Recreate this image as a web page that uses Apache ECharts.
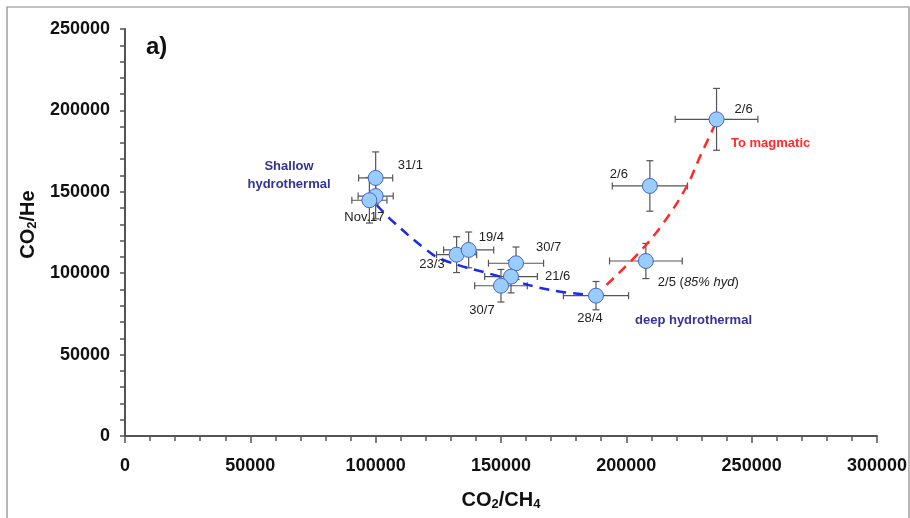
<!DOCTYPE html>
<html><head><meta charset="utf-8">
<script src="https://cdn.jsdelivr.net/npm/echarts@6/dist/echarts.min.js"></script>
<style>html,body{margin:0;padding:0;background:#fff;overflow:hidden;}#c{width:910px;height:518px;}</style>
</head><body><div id="c"></div>
<script>
// ---- data ----
var sampleLabels = ['31/1', 'Nov.17', 'Nov.17b', '23/3', '19/4', '30/7', '21/6', '30/7b', '28/4', '2/5', '2/6', '2/6b'];
var co2ch4 = [100000, 100000, 97500, 132300, 137100, 156000, 154000, 150000, 187900, 207800, 209400, 236000];
var co2he  = [158500, 147400, 144800, 111400, 114300, 106100, 97900, 92300, 86200, 107500, 153600, 194500];
var errCh4 = [6800, 7000, 7000, 8000, 10000, 11000, 10500, 10500, 13000, 14500, 15000, 16500];
var errHe  = [16000, 14000, 14000, 11000, 11000, 10000, 10000, 10000, 8700, 10800, 15500, 19000];
var shallowTrendX = [100400, 107000, 120300, 127000, 148300, 169500, 186200];
var shallowTrendY = [141900, 131600, 114300, 108100, 98500, 89700, 86600];
var magmaticTrendX = [192100, 205400, 214700, 224000, 229400, 235300];
var magmaticTrendY = [92800, 113200, 130600, 153100, 171600, 191000];
var xTicks = [0, 50000, 100000, 150000, 200000, 250000, 300000];
var yTicks = [0, 50000, 100000, 150000, 200000, 250000];

// ---- label placement (style) ----
var labelText = {'31/1':'31/1','Nov.17':'','Nov.17b':'Nov.17','23/3':'23/3','19/4':'19/4','30/7':'30/7','21/6':'21/6','30/7b':'30/7','28/4':'28/4','2/5':'2/5 ({it|85% hyd})','2/6':'2/6','2/6b':'2/6'};
var labelStyle = [
  {offset:[22,-13], align:'left'},
  {offset:[0,0], align:'left'},
  {offset:[-5,17], align:'center'},
  {offset:[-12,10], align:'right'},
  {offset:[10,-12], align:'left'},
  {offset:[20,-16], align:'left'},
  {offset:[34,0], align:'left'},
  {offset:[-19,25], align:'center'},
  {offset:[-6,23], align:'center'},
  {offset:[12,21], align:'left'},
  {offset:[-22,-12], align:'right'},
  {offset:[18,-10], align:'left'}
];

function pairs(a, b) { return a.map(function (v, i) { return [v, b[i]]; }); }

var FONT = 'Liberation Sans, Arial, sans-serif';
var scatterData = co2ch4.map(function (x, i) {
  return {
    value: [x, co2he[i]],
    label: {
      show: true, position: 'inside', offset: labelStyle[i].offset,
      align: labelStyle[i].align, verticalAlign: 'middle',
      formatter: labelText[sampleLabels[i]],
      fontFamily: FONT, fontSize: 13, color: '#222',
      rich: { it: { fontStyle: 'italic', fontSize: 13, color: '#222', fontFamily: FONT } }
    }
  };
});
var errData = co2ch4.map(function (x, i) { return [x, co2he[i], errCh4[i], errHe[i]]; });

var sub = { fontSize: 13, fontWeight: 'bold', verticalAlign: 'bottom', lineHeight: 22, fontFamily: FONT, color: '#111' };
var main = { fontSize: 20, fontWeight: 'bold', verticalAlign: 'middle', lineHeight: 22, fontFamily: FONT, color: '#111' };
function plain(v) { return String(v); }

var chart = echarts.init(document.getElementById('c'), null, { renderer: 'canvas', width: 910, height: 518 });
chart.setOption({
  animation: false,
  backgroundColor: '#fff',
  grid: { left: 125, right: 33, top: 29, bottom: 82, containLabel: false },
  xAxis: {
    type: 'value', min: xTicks[0], max: xTicks[xTicks.length - 1], interval: 50000,
    name: '{m|CO}{s|2}{m|/CH}{s|4}', nameLocation: 'middle', nameGap: 53,
    nameTextStyle: { rich: { m: main, s: sub } },
    axisLine: { show: true, lineStyle: { color: '#555', width: 2 } },
    axisTick: { show: true, length: 7, lineStyle: { color: '#555', width: 1.5 } },
    minorTick: { show: true, splitNumber: 5, length: 5, lineStyle: { color: '#555', width: 1.5 } },
    splitLine: { show: false },
    axisLabel: { formatter: plain, margin: 21, fontSize: 18, fontWeight: 'bold', color: '#111', fontFamily: FONT }
  },
  yAxis: {
    type: 'value', min: yTicks[0], max: yTicks[yTicks.length - 1], interval: 50000,
    name: '{m|CO}{s|2}{m|/He}', nameLocation: 'middle', nameGap: 86, nameRotate: 90,
    nameTextStyle: { rich: { m: main, s: sub }, padding: [0, 0, 0, 16] },
    axisLine: { show: true, lineStyle: { color: '#555', width: 2 } },
    axisTick: { show: true, length: 5, lineStyle: { color: '#555', width: 1.5 } },
    minorTick: { show: true, splitNumber: 5, length: 5, lineStyle: { color: '#555', width: 1.5 } },
    splitLine: { show: false },
    axisLabel: { formatter: plain, margin: 15, fontSize: 18, fontWeight: 'bold', color: '#111', fontFamily: FONT }
  },
  graphic: [
    { type: 'rect', shape: { x: 7, y: 7, width: 902, height: 530 }, style: { fill: 'none', stroke: '#888', lineWidth: 1.2 }, z: -1 },
    { type: 'text', left: 146, top: 35, style: { text: 'a)', font: 'bold 24px ' + FONT, fill: '#111' } },
    { type: 'text', x: 289, y: 175, style: { text: 'Shallow\nhydrothermal', align: 'center', verticalAlign: 'middle', lineHeight: 18, font: 'bold 13px ' + FONT, fill: '#333399' } },
    { type: 'text', x: 635, y: 320, style: { text: 'deep hydrothermal', align: 'left', verticalAlign: 'middle', font: 'bold 13px ' + FONT, fill: '#333399' } },
    { type: 'text', x: 731, y: 143, style: { text: 'To magmatic', align: 'left', verticalAlign: 'middle', font: 'bold 13px ' + FONT, fill: '#ff2a2a' } }
  ],
  series: [
    {
      type: 'custom', z: 2, silent: true,
      data: errData,
      renderItem: function (params, api) {
        var x = api.value(0), y = api.value(1), ex = api.value(2), ey = api.value(3);
        var l = api.coord([x - ex, y]), r = api.coord([x + ex, y]);
        var t = api.coord([x, y + ey]), b = api.coord([x, y - ey]);
        var c = 3.5;
        var st = { stroke: '#555', lineWidth: 1.2 };
        return { type: 'group', children: [
          { type: 'line', shape: { x1: l[0], y1: l[1], x2: r[0], y2: r[1] }, style: st },
          { type: 'line', shape: { x1: t[0], y1: t[1], x2: b[0], y2: b[1] }, style: st },
          { type: 'line', shape: { x1: l[0], y1: l[1] - c, x2: l[0], y2: l[1] + c }, style: st },
          { type: 'line', shape: { x1: r[0], y1: r[1] - c, x2: r[0], y2: r[1] + c }, style: st },
          { type: 'line', shape: { x1: t[0] - c, y1: t[1], x2: t[0] + c, y2: t[1] }, style: st },
          { type: 'line', shape: { x1: b[0] - c, y1: b[1], x2: b[0] + c, y2: b[1] }, style: st }
        ] };
      }
    },
    {
      type: 'line', z: 3, smooth: 0.4, symbol: 'none', silent: true,
      data: pairs(shallowTrendX, shallowTrendY),
      lineStyle: { color: '#1a2bf0', width: 2.5, type: [10, 7] }
    },
    {
      type: 'line', z: 3, smooth: 0.4, symbol: 'none', silent: true,
      data: pairs(magmaticTrendX, magmaticTrendY),
      lineStyle: { color: '#ff2a2a', width: 2.5, type: [10, 7] }
    },
    {
      type: 'scatter', z: 4, symbol: 'circle', symbolSize: 15,
      itemStyle: { color: '#99ccff', borderColor: '#4a64c0', borderWidth: 1, opacity: 1 },
      data: scatterData
    }
  ]
});
</script>
</body></html>
